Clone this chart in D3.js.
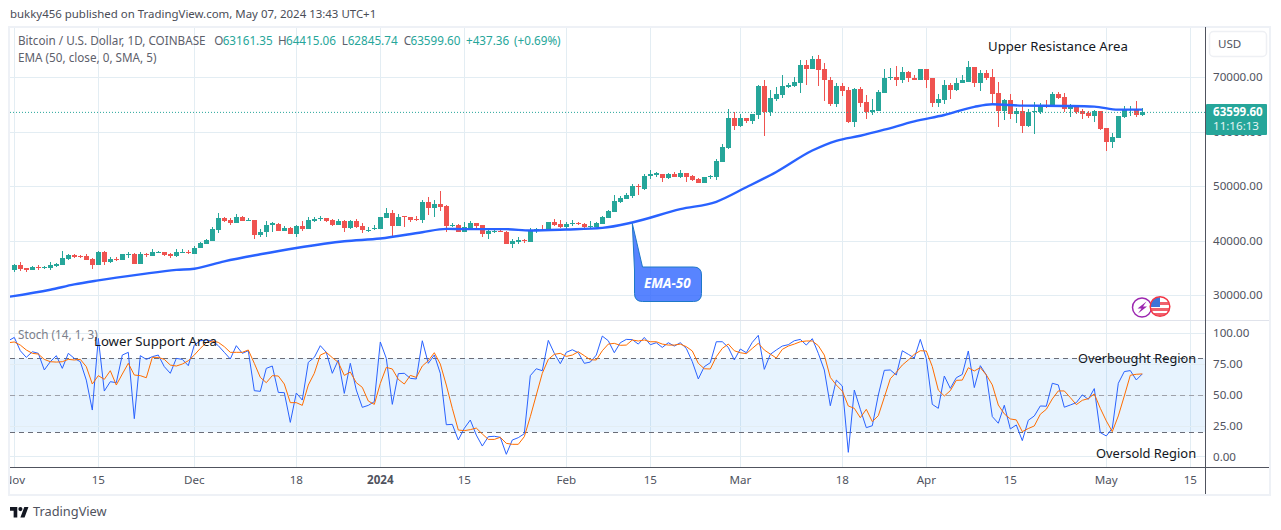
<!DOCTYPE html>
<html>
<head>
<meta charset="utf-8">
<title>BTCUSD</title>
<script src="https://cdn.jsdelivr.net/npm/d3@7"></script>
<style>
  html, body { margin: 0; padding: 0; background: #fff; overflow: hidden; }
  text { font-family: "Noto Sans", sans-serif; }
</style>
</head>
<body>
<svg id="chart" width="1281" height="530"></svg>
<script>
// daily candles, first one is 1 Nov 2023, last one 7 May 2024
const candleOpen = [
  34610,35530,34980,34610,35160,34980,34980,35350,35530,36640,
  37370,37190,37190,36640,35530,37930,36080,36640,36450,37370,
  37560,35720,37560,37190,37930,37930,37560,37190,37740,38000,
  37560,38670,39400,39960,41980,44200,43830,43270,44380,43640,
  43830,41060,41610,42900,43090,41800,42350,41250,42720,42170,
  43640,44010,44200,43830,42900,43640,42350,43640,42720,41980,
  42170,42170,44200,45120,42720,44500,44380,44010,43830,47140,
  46040,46780,46410,42720,42900,41610,42300,43270,42900,41250,
  41700,41800,41610,39400,39770,40140,39770,41750,42100,41980,
  43460,43090,42540,43200,43270,43090,42600,42540,43090,44200,
  45300,47140,47700,48250,50090,49540,52000,52060,52310,51570,
  52310,51750,52490,51940,51380,50650,51750,51750,54520,57100,
  62630,61150,62630,62080,63180,68530,63730,66130,66870,68340,
  68530,69080,72210,71480,73320,71480,69630,65210,68530,67790,
  61890,67970,65580,63730,63920,67240,70000,70180,69450,70920,
  70000,69630,71480,69820,65390,65950,68710,67790,68900,69260,
  71840,69080,70740,70180,67240,63920,65950,63370,63920,61150,
  63600,63730,65020,64840,67050,66500,64290,64840,63920,63550,
  63000,63920,60780,58200,58940,62810,64100,64100,63161.35
];
const candleHigh = [
  35720,36080,34980,35350,35530,35350,36080,35900,38110,37560,
  37560,37370,37560,36820,38110,38110,37010,37010,37560,37930,
  37740,37930,37740,38480,38110,37930,37740,38480,38480,38300,
  39030,39770,40320,42540,45120,44380,44200,44930,44560,44200,
  43830,42170,43640,43460,43270,42720,42540,42900,43640,44380,
  44380,44560,44200,44010,44010,43830,43830,44010,43270,42600,
  42900,44380,46040,45670,44930,44560,44380,44560,47510,48070,
  47510,49170,46590,43270,43090,43460,43640,43270,42900,42350,
  42230,42170,41800,40320,40690,40320,42350,42350,42900,43460,
  44010,43830,43460,43830,43460,43270,43640,43460,44560,45670,
  48430,48250,48800,50460,50460,52310,53040,52670,52310,52490,
  52670,53040,52490,52120,51570,51750,52120,55070,57840,64290,
  63730,63370,62630,63370,68710,69450,67790,68340,70370,68900,
  70180,73140,73140,73870,74060,72580,70180,69080,69080,68340,
  68160,68340,66870,66130,67790,71480,71660,72030,71840,71110,
  70550,71480,71480,69820,67050,69450,68900,69820,70550,72950,
  71840,71290,71290,71480,69260,66130,67050,64470,65950,64290,
  65580,65390,65950,67420,67420,67240,65210,65020,64290,63920,
  64100,63920,60780,59860,63000,64840,64840,65760,64415.06
];
const candleLow = [
  34240,34430,34240,34610,34610,34790,34610,35160,35530,36450,
  36820,36820,36450,34790,35530,35530,35900,36270,36450,36820,
  35720,35720,37010,37190,37830,37190,36820,37010,37740,37560,
  37560,38670,39400,39960,41430,43460,42900,43270,43640,43640,
  40320,40690,40690,41610,41800,41800,41250,40690,41800,42170,
  43460,43640,43460,42720,42900,41610,42170,42350,41430,41610,
  41980,42170,44200,40690,42720,42540,43460,43640,43270,44750,
  44380,45490,41610,42540,41610,41610,42170,42350,40690,40320,
  41430,41610,39400,38670,39400,39590,39770,41430,41800,41980,
  42720,42350,41980,42720,42900,42350,42350,42540,43090,44200,
  45300,46960,47700,47880,48430,49360,51380,51750,50830,51380,
  51750,51570,50830,51010,50650,50650,51380,51200,54520,56910,
  60420,60970,61710,61520,62440,59310,63000,65760,66310,68160,
  68340,67240,68710,71480,68530,65760,64840,64660,66680,61710,
  60970,64660,62440,63180,63920,67240,69450,68530,69080,69260,
  69630,69630,68160,64660,64660,65210,66130,67600,68900,69260,
  68340,67600,69630,65020,60970,62260,62440,61710,59860,60970,
  59680,63370,64470,64660,66130,63730,62810,63370,62440,62630,
  61890,60420,56540,57100,58940,62630,63000,62810,62845.74
];
const candleClose = [
  35530,34790,34610,35160,34980,35160,35530,35720,36820,37370,
  37010,37010,36450,35530,37930,36080,36640,36450,37560,37560,
  35720,37560,37370,37930,38020,37370,37190,37930,37930,37800,
  38670,39590,40140,42170,44200,43640,43270,44380,43640,43830,
  41060,41610,42900,43270,41800,42350,41250,42720,42170,43830,
  44010,44200,43640,42900,43640,42350,43640,42540,41980,42100,
  42350,44380,45120,42720,44380,44380,43830,43830,47140,46040,
  46780,46220,42720,42900,41610,42540,43270,42720,41250,41800,
  41800,41680,39400,39960,40140,39960,41980,42170,41980,43460,
  42900,42540,43090,43330,43090,42540,42720,43270,44380,45490,
  47330,47880,48430,50090,49910,51940,52250,52430,51570,52310,
  51750,52490,51750,51200,50650,51750,51940,54700,57280,62630,
  61150,62630,62080,63370,68530,63730,66310,67050,68530,68710,
  69260,72210,71480,73320,71290,69450,65210,68530,67600,61890,
  67970,65390,63730,64100,67420,70000,70180,69450,70920,69820,
  69630,71480,69630,65390,66130,68710,67790,69080,69450,71840,
  69080,70740,70000,67050,63920,65950,63370,63920,61150,63730,
  63920,65020,64700,67050,66310,64290,64840,63730,63370,63000,
  63920,60600,58200,59130,63000,64290,64290,63180,63599.60
];

// EMA read at these days (offset from 1 Nov)
const emaDays = [-1,6,10,14,21,27,30,35,41,47,55,61,68,72,75,82,86,92,98,103,111,117,122,127,133,137,141,145,150,155,160,163,168,175,180,184,188];
const emaValues = [29740,31050,32030,32770,33870,34700,34920,36270,37560,38720,39960,40450,41610,42220,42170,42170,41930,42110,42400,43400,45850,47200,49860,52670,56600,58390,59310,60420,61950,63120,64600,65080,64840,64780,64660,64100,64100];

// stochastic, first value is 31 Oct
const stochK = [
  94.2,96.9,86.1,80.7,85.3,84.0,70.5,77.2,82.1,71.8,84.0,
  79.9,77.2,62.3,38.0,96.1,53.4,61.0,60.2,82.6,84.8,
  31.0,82.1,79.1,81.3,82.6,73.2,67.8,79.9,79.1,74.0,
  90.7,94.2,94.8,94.2,90.2,84.8,79.4,90.2,84.0,86.1,
  53.7,53.2,71.8,73.7,52.3,52.1,28.0,51.8,46.1,76.7,
  80.7,90.2,84.8,67.8,78.6,51.5,75.9,54.2,40.2,41.8,
  44.8,93.2,79.9,42.6,67.5,67.8,63.7,63.2,94.2,75.9,
  82.6,67.8,26.1,26.4,13.7,23.2,29.9,17.7,8.8,16.4,
  16.7,15.9,2.1,13.7,15.6,18.8,65.9,71.5,69.9,94.5,
  84.0,75.6,84.8,86.9,84.5,75.9,76.9,82.6,98.0,94.2,
  84.5,92.6,95.3,95.1,91.5,96.9,91.0,92.6,88.8,92.6,
  89.9,92.6,88.0,77.2,63.2,73.2,76.4,93.4,93.4,88.8,
  78.6,87.5,84.5,92.9,98.6,71.0,83.2,86.7,89.9,91.0,
  94.2,95.3,90.7,95.9,84.0,70.5,41.5,62.3,57.5,3.7,
  54.2,38.6,23.7,25.3,50.2,70.2,70.5,66.4,86.1,83.2,
  80.2,95.3,79.9,42.6,39.4,65.6,55.6,64.2,66.9,85.9,
  56.2,74.0,66.5,32.7,27.3,41.9,22.7,25.9,13.2,29.7,
  33.2,41.3,41.1,59.7,58.4,40.3,42.1,44.0,50.3,46.7,
  55.4,19.7,17.0,23.2,59.7,69.2,70.0,62.4,67.3
];
const stochD = [
  92.6,93.2,90.7,86.7,84.0,83.4,79.1,77.2,76.9,77.2,79.1,
  78.6,79.1,73.2,59.1,65.9,62.9,69.9,58.3,67.2,75.9,
  66.4,65.9,64.2,80.7,80.7,79.1,74.5,73.7,75.3,78.0,
  82.6,88.0,92.6,94.0,92.9,89.4,84.8,84.8,84.8,86.7,
  75.9,64.5,60.2,65.9,65.6,59.1,44.0,44.0,41.8,58.3,
  67.8,82.6,84.8,80.5,76.7,66.1,68.8,60.2,56.4,45.3,
  42.6,59.6,72.6,71.3,62.9,59.1,66.1,64.5,73.7,78.0,
  84.5,75.3,58.3,39.4,21.8,21.3,22.1,23.4,18.6,14.2,
  14.2,15.9,11.0,10.2,10.2,16.4,32.6,50.2,67.8,79.1,
  83.2,84.0,81.5,82.6,85.3,82.1,78.8,78.6,86.1,91.5,
  92.1,90.5,90.7,94.8,94.0,94.8,93.4,93.4,91.5,90.7,
  90.7,91.5,89.4,85.9,75.9,71.5,71.3,81.3,88.0,91.5,
  86.1,84.5,83.7,88.0,92.1,86.7,83.4,80.2,87.2,89.9,
  91.5,93.4,94.0,94.0,90.2,82.6,64.5,58.3,53.4,41.3,
  39.4,31.8,38.6,28.6,33.4,48.3,63.4,68.6,74.5,78.6,
  83.2,86.1,85.9,73.2,54.2,49.4,53.7,62.1,62.3,72.3,
  69.7,72.4,66.5,58.4,42.1,34.9,30.8,30.0,20.5,23.0,
  25.1,34.6,38.6,47.0,53.5,53.5,48.1,42.4,45.9,47.3,
  51.1,39.4,29.2,20.5,33.2,49.4,66.2,67.0,67.3
];

const priceTicks = [30000, 40000, 50000, 60000, 70000];
const stochTicks = [0, 25, 50, 75, 100];
const stochLevels = [20, 50, 80];
const timeTickDates = ['2023-11-01','2023-11-15','2023-12-01','2023-12-18','2024-01-01','2024-01-15','2024-02-01','2024-02-15','2024-03-01','2024-03-18','2024-04-01','2024-04-15','2024-05-01','2024-05-15'];
const timeTickLabels = ['Nov','15','Dec','18','2024','15','Feb','15','Mar','18','Apr','15','May','15'];
const lastPrice = 63599.60;

const UP = '#26a69a', DOWN = '#ef5350', GRID = '#e3edf3', AXIS = '#50535e', LABEL = '#5d606b';
const firstDay = new Date(Date.UTC(2023, 10, 1));
const dayOf = i => d3.utcDay.offset(firstDay, i);

const svg = d3.select('#chart');
const x = d3.scaleUtc().domain([firstDay, new Date(Date.UTC(2024, 4, 15))]).range([14.3, 1190.3]);
const yPrice = d3.scaleLinear().domain([30000, 70000]).range([295.5, 77.5]);
const yStoch = d3.scaleLinear().domain([0, 100]).range([456.9, 333.6]);

const paneLeft = 10, paneRight = 1205;
const defs = svg.append('defs');
defs.append('clipPath').attr('id', 'priceClip').append('rect')
  .attr('x', paneLeft).attr('y', 27).attr('width', paneRight - paneLeft).attr('height', 293);
defs.append('clipPath').attr('id', 'stochClip').append('rect')
  .attr('x', paneLeft).attr('y', 321).attr('width', paneRight - paneLeft).attr('height', 146);
defs.append('clipPath').attr('id', 'timeClip').append('rect')
  .attr('x', paneLeft).attr('y', 468).attr('width', paneRight - paneLeft).attr('height', 26);
defs.append('clipPath').attr('id', 'flagClip').append('circle')
  .attr('cx', 1160).attr('cy', 306.5).attr('r', 9.5);

function label(g, txt, px, py, size, color, extra) {
  const t = g.append('text').attr('x', px).attr('y', py).attr('font-size', size).attr('fill', color)
    .attr('dominant-baseline', 'middle').text(txt);
  if (extra) extra(t);
  return t;
}

// title
label(svg, 'bukky456 published on TradingView.com, May 07, 2024 13:43 UTC+1', 10, 15, 11.45, '#4a4d57');

// grid
const grid = svg.append('g').attr('stroke', GRID).attr('shape-rendering', 'crispEdges');
grid.selectAll('.gx').data(timeTickDates).join('line')
  .attr('x1', d => Math.floor(x(new Date(d))) + 0.5).attr('x2', d => Math.floor(x(new Date(d))) + 0.5)
  .attr('y1', 27).attr('y2', 467);
grid.selectAll('.gp').data(priceTicks).join('line')
  .attr('x1', paneLeft).attr('x2', paneRight)
  .attr('y1', d => yPrice(d)).attr('y2', d => yPrice(d));

// stoch band and its grid
const stochPane = svg.append('g');
stochPane.append('rect')
  .attr('x', paneLeft).attr('width', paneRight - paneLeft)
  .attr('y', yStoch(80)).attr('height', yStoch(20) - yStoch(80))
  .attr('fill', '#2196f3').attr('fill-opacity', 0.11);
stochPane.selectAll('.gs').data(stochTicks).join('line')
  .attr('x1', paneLeft).attr('x2', paneRight)
  .attr('y1', d => Math.floor(yStoch(d)) + 0.5).attr('y2', d => Math.floor(yStoch(d)) + 0.5)
  .attr('stroke', GRID).attr('shape-rendering', 'crispEdges');
stochPane.selectAll('.lvl').data(stochLevels).join('line')
  .attr('x1', paneLeft).attr('x2', paneRight)
  .attr('y1', d => Math.floor(yStoch(d)) + 0.5).attr('y2', d => Math.floor(yStoch(d)) + 0.5)
  .attr('stroke', d => d === 50 ? '#9ea1aa' : '#6a6d78')
  .attr('stroke-dasharray', '5 4').attr('shape-rendering', 'crispEdges');

// candles
const candles = svg.append('g').attr('clip-path', 'url(#priceClip)').attr('shape-rendering', 'crispEdges');
const idx = d3.range(candleOpen.length);
const colorOf = i => candleClose[i] >= candleOpen[i] ? UP : DOWN;
candles.selectAll('.wick').data(idx).join('rect')
  .attr('x', i => Math.floor(x(dayOf(i))))
  .attr('width', 1)
  .attr('y', i => yPrice(candleHigh[i]))
  .attr('height', i => yPrice(candleLow[i]) - yPrice(candleHigh[i]))
  .attr('fill', colorOf);
candles.selectAll('.body').data(idx).join('rect')
  .attr('x', i => Math.floor(x(dayOf(i))) - 2)
  .attr('width', 5)
  .attr('y', i => yPrice(Math.max(candleOpen[i], candleClose[i])))
  .attr('height', i => Math.max(1, Math.abs(yPrice(candleOpen[i]) - yPrice(candleClose[i]))))
  .attr('fill', colorOf);

// last price dotted line
svg.append('line')
  .attr('x1', paneLeft).attr('x2', paneRight)
  .attr('y1', yPrice(lastPrice)).attr('y2', yPrice(lastPrice))
  .attr('stroke', UP).attr('stroke-dasharray', '1 2');

// EMA
svg.append('path')
  .attr('clip-path', 'url(#priceClip)')
  .datum(emaDays.map((d, i) => [d, emaValues[i]]))
  .attr('fill', 'none').attr('stroke', '#2962ff').attr('stroke-width', 2.4)
  .attr('d', d3.line().x(d => x(dayOf(d[0]))).y(d => yPrice(d[1])).curve(d3.curveMonotoneX));

// stoch lines
const stochLine = d3.line().x((d, i) => x(dayOf(i - 1))).y(d => yStoch(d));
const stochG = svg.append('g').attr('clip-path', 'url(#stochClip)').attr('fill', 'none');
stochG.append('path').attr('d', stochLine(stochK)).attr('stroke', '#2962ff').attr('stroke-width', 1);
stochG.append('path').attr('d', stochLine(stochD)).attr('stroke', '#ff6d00').attr('stroke-width', 1);

// frame and separators
const frame = svg.append('g').attr('shape-rendering', 'crispEdges');
frame.append('rect').attr('x', 9).attr('y', 26.5).attr('width', 1261).attr('height', 468)
  .attr('fill', 'none').attr('stroke', '#eef1f6').attr('stroke-width', 2);
frame.append('line').attr('x1', paneLeft).attr('x2', 1269).attr('y1', 320.5).attr('y2', 320.5).attr('stroke', '#e0e3eb');
frame.append('line').attr('x1', paneLeft).attr('x2', 1269).attr('y1', 467.5).attr('y2', 467.5).attr('stroke', AXIS);
frame.append('line').attr('x1', 1205.5).attr('x2', 1205.5).attr('y1', 27).attr('y2', 494).attr('stroke', AXIS);

// legends
const legendRow = [['Bitcoin / U.S. Dollar, 1D, COINBASE', 18, LABEL], ['O', 214.3, LABEL], ['63161.35', 222.7, UP], ['H', 278, LABEL], ['64415.06', 286, UP], ['L', 341.7, LABEL], ['62845.74', 347.7, UP], ['C', 403.7, LABEL], ['63599.60', 410.5, UP], ['+437.36', 466, UP], ['(+0.69%)', 514, UP]];
legendRow.forEach(r => label(svg, r[0], r[1], 42, 11.7, r[2]));
label(svg, 'EMA (50, close, 0, SMA, 5)', 18, 59, 11.7, LABEL);
label(svg, 'Stoch (14, 1, 3)', 18, 335.5, 11.7, '#7b7e89');

// annotations
const NOTE = '#131722';
label(svg, 'Upper Resistance Area', 988, 47, 13.2, NOTE);
label(svg, 'Lower Support Area', 94, 342, 13.2, NOTE);
label(svg, 'Overbought Region', 1078, 359.5, 12.8, NOTE);
label(svg, 'Oversold Region', 1096, 454.5, 12.9, NOTE);

// EMA-50 callout
const calloutTip = [x(dayOf(103)), yPrice(emaValues[emaDays.indexOf(103)])];
svg.append('path')
  .attr('d', `M${calloutTip[0]},${calloutTip[1] + 1} L642.5,267 H693.5 Q701.5,267 701.5,275 V293.5 Q701.5,301.5 693.5,301.5 H642.5 Q634.5,301.5 634.5,293.5 V270 Z`)
  .attr('fill', '#2962ff').attr('fill-opacity', 0.78).attr('stroke', '#1e78c8').attr('stroke-width', 1);
label(svg, 'EMA-50', 644, 284, 13.4, '#fff', t => t.attr('font-style', 'italic').attr('font-weight', 'bold'));

// icons
svg.append('circle').attr('cx', 1142).attr('cy', 307.5).attr('r', 9.5).attr('fill', '#fff').attr('stroke', '#9c27b0').attr('stroke-width', 1.5);
svg.append('path').attr('d', 'M1146.5,301.5 L1137.5,308.5 H1141.5 L1138,313.5 L1147,306.5 H1143 Z').attr('fill', '#9c27b0');
const flag = svg.append('g').attr('clip-path', 'url(#flagClip)');
flag.append('circle').attr('cx', 1160).attr('cy', 306.5).attr('r', 9.5).attr('fill', '#fff');
flag.append('rect').attr('x', 1160).attr('y', 302).attr('width', 11).attr('height', 3).attr('fill', '#f0616d');
flag.append('rect').attr('x', 1149).attr('y', 308).attr('width', 22).attr('height', 3).attr('fill', '#f0616d');
flag.append('rect').attr('x', 1149).attr('y', 313).attr('width', 22).attr('height', 3).attr('fill', '#f0616d');
flag.append('rect').attr('x', 1149).attr('y', 296).attr('width', 11).attr('height', 11).attr('fill', '#3d74d8');
svg.append('circle').attr('cx', 1160).attr('cy', 306.5).attr('r', 9.8).attr('fill', 'none').attr('stroke', '#f23645').attr('stroke-width', 1.5);

// axes labels
const fmt = d3.format('.2f');
const priceAxis = svg.append('g');
priceTicks.forEach(d => label(priceAxis, fmt(d), 1213, yPrice(d) + 0.7, 11.6, AXIS));
stochTicks.forEach(d => label(priceAxis, fmt(d), 1213, yStoch(d) + 0.7, 11.6, AXIS));

const timeAxis = svg.append('g').attr('clip-path', 'url(#timeClip)');
timeTickDates.forEach((d, i) => {
  label(timeAxis, timeTickLabels[i], x(new Date(d)), 481, 11.6, AXIS, t => {
    t.attr('text-anchor', 'middle');
    if (timeTickLabels[i] === '2024') t.attr('font-weight', 'bold');
  });
});

// USD button
svg.append('rect').attr('x', 1209.5).attr('y', 31.5).attr('width', 57).attr('height', 25).attr('rx', 4)
  .attr('fill', '#fff').attr('stroke', '#eef0f4').attr('stroke-width', 1.5);
label(svg, 'USD', 1218, 45, 11.6, AXIS);

// last price tag
svg.append('rect').attr('x', 1206).attr('y', 104).attr('width', 61).attr('height', 31).attr('rx', 1).attr('fill', UP);
label(svg, fmt(lastPrice), 1213, 112.5, 11.6, '#fff', t => t.attr('font-weight', 'bold'));
label(svg, '11:16:13', 1213, 126.5, 11.6, '#e4f4f2');

// TradingView logo
const logo = svg.append('g').attr('transform', 'translate(10,507) scale(0.52)').attr('fill', '#131722');
logo.append('path').attr('d', 'M14 20H7V7H0V0h14v20zM28 20h-8l7.5-20h8L28 20z');
logo.append('circle').attr('cx', 20).attr('cy', 4).attr('r', 4);
label(svg, 'TradingView', 33, 512.5, 12.8, AXIS);
</script>
</body>
</html>
